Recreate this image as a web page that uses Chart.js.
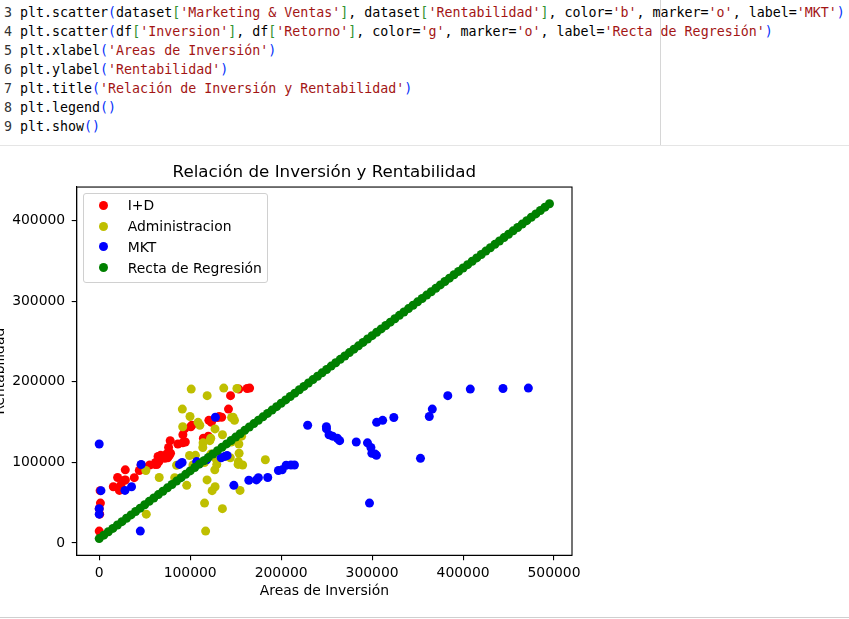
<!DOCTYPE html>
<html lang="es">
<head>
    <meta charset="UTF-8">
    <title>Relación de Inversión y Rentabilidad</title>
    <script src="https://cdn.jsdelivr.net/npm/chart.js"></script>
    <style>
        body {
            margin: 0;
            width: 849px;
            height: 619px;
            overflow: hidden;
            background: #fff;
            position: relative;
            font-family: "DejaVu Sans", sans-serif;
        }
        pre.code {
            position: absolute;
            left: 4px;
            top: 2.5px;
            margin: 0;
            font-family: "DejaVu Sans Mono", monospace;
            font-size: 13.3px;
            line-height: 19px;
            color: #000;
        }
        .code .n { color: #333; }
        .code .p { color: #0431fa; }
        .code .k { color: #319331; }
        .code .s { color: #a31515; }
        .ruler { position: absolute; left: 660px; top: 0; width: 1px; height: 145px; background: #d6d6d6; }
        .sep { position: absolute; left: 0; width: 849px; height: 1px; }
        #grafico {
            position: absolute;
            left: -8px;
            top: 150px;
        }
        #leyenda {
            position: absolute;
            left: 83px;
            top: 193px;
            width: 183px;
            height: 88px;
            border: 1px solid #d0d0d0;
            border-radius: 3px;
            background: rgba(255, 255, 255, 0.8);
            font-size: 13.9px;
            color: #000;
        }
        #leyenda .fila { position: absolute; left: 0; height: 20px; line-height: 20px; white-space: nowrap; }
        #leyenda .punto { position: absolute; left: 14.5px; top: 5.5px; width: 9px; height: 9px; border-radius: 50%; }
        #leyenda .txt { position: absolute; left: 43.7px; top: 0; }
    </style>
</head>
<body>

<pre class="code"><span class="n">3</span> plt.scatter<span class="p">(</span>dataset<span class="k">[</span><span class="s">'Marketing &amp; Ventas'</span><span class="k">]</span>, dataset<span class="k">[</span><span class="s">'Rentabilidad'</span><span class="k">]</span>, color=<span class="s">'b'</span>, marker=<span class="s">'o'</span>, label=<span class="s">'MKT'</span><span class="p">)</span>
<span class="n">4</span> plt.scatter<span class="p">(</span>df<span class="k">[</span><span class="s">'Inversion'</span><span class="k">]</span>, df<span class="k">[</span><span class="s">'Retorno'</span><span class="k">]</span>, color=<span class="s">'g'</span>, marker=<span class="s">'o'</span>, label=<span class="s">'Recta de Regresión'</span><span class="p">)</span>
<span class="n">5</span> plt.xlabel<span class="p">(</span><span class="s">'Areas de Inversión'</span><span class="p">)</span>
<span class="n">6</span> plt.ylabel<span class="p">(</span><span class="s">'Rentabilidad'</span><span class="p">)</span>
<span class="n">7</span> plt.title<span class="p">(</span><span class="s">'Relación de Inversión y Rentabilidad'</span><span class="p">)</span>
<span class="n">8</span> plt.legend<span class="p">()</span>
<span class="n">9</span> plt.show<span class="p">()</span></pre>
<div class="ruler"></div>
<div class="sep" style="top:145px; background:#e5e5e5;"></div>
<div class="sep" style="top:617px; background:#cfcfcf;"></div>

<canvas id="grafico" width="620" height="467"></canvas>
<div id="leyenda"></div>

<script>
    // Datos de las empresas (gasto por área y rentabilidad)
    const gastoID = [165349.2, 162597.7, 153441.51, 144372.41, 142107.34, 131876.9, 134615.46, 130298.13, 120542.52, 123334.88,
        101913.08, 100671.96, 93863.75, 91992.39, 119943.24, 114523.61, 78013.11, 94657.16, 91749.16, 86419.7,
        76253.86, 78389.47, 73994.56, 67532.53, 77044.01, 64664.71, 75328.87, 72107.6, 66051.52, 65605.48,
        61994.48, 61136.38, 63408.86, 55493.95, 46426.07, 46014.02, 28663.76, 44069.95, 20229.59, 38558.51,
        28754.33, 27892.92, 23640.93, 15505.73, 22177.74, 1000.23, 1315.46, 0, 542.05, 0];

    const gastoAdmin = [136897.8, 151377.59, 101145.55, 118671.85, 91391.77, 99814.71, 147198.87, 145530.06, 148718.95, 108679.17,
        110594.11, 91790.61, 127320.38, 135495.07, 156547.42, 122616.84, 121597.55, 145077.58, 114175.79, 153514.11,
        113867.3, 153773.43, 122782.75, 105751.03, 99281.34, 139553.16, 144135.98, 127864.55, 182645.56, 153032.06,
        115641.28, 152701.92, 129219.61, 103057.49, 157693.92, 85047.44, 127056.21, 51283.14, 65947.93, 82982.09,
        118546.05, 84710.77, 96189.63, 127382.3, 154806.14, 124153.04, 115816.21, 135426.92, 51743.15, 116983.8];

    const gastoMkt = [471784.1, 443898.53, 407934.54, 383199.62, 366168.42, 362861.36, 127716.82, 323876.68, 311613.29, 304981.62,
        229160.95, 249744.55, 249839.44, 252664.93, 256512.92, 261776.23, 264346.06, 282574.31, 294919.57, 0,
        298664.47, 299737.29, 303319.26, 304768.73, 140574.81, 137962.62, 134050.07, 353183.81, 118148.2, 107138.38,
        91131.24, 88218.23, 46085.25, 214634.81, 210797.67, 205517.64, 201126.82, 197029.42, 185265.1, 174999.3,
        172795.67, 164470.71, 148001.11, 35534.17, 28334.72, 1903.93, 297114.46, 0, 0, 45173.06];

    const rentabilidad = [192261.83, 191792.06, 191050.39, 182901.99, 166187.94, 156991.12, 156122.51, 155752.6, 152211.77, 149759.96,
        146121.95, 144259.4, 141585.52, 134307.35, 132602.65, 129917.04, 126992.93, 125370.37, 124266.9, 122776.86,
        118474.03, 111313.02, 110352.25, 108733.99, 108552.04, 107404.34, 105733.54, 105008.31, 103282.38, 101004.64,
        99937.59, 97483.56, 97427.84, 96778.92, 96712.8, 96479.51, 90708.19, 89949.14, 81229.06, 81005.76,
        78239.91, 77798.83, 71498.49, 69758.98, 65200.33, 64926.08, 49490.75, 42559.73, 35673.41, 14681.4];

    // Recta de regresión
    const inversion = [0, 5000, 10000, 15000, 20000, 25000, 30000, 35000, 40000, 45000,
        50000, 55000, 60000, 65000, 70000, 75000, 80000, 85000, 90000, 95000,
        100000, 105000, 110000, 115000, 120000, 125000, 130000, 135000, 140000, 145000,
        150000, 155000, 160000, 165000, 170000, 175000, 180000, 185000, 190000, 195000,
        200000, 205000, 210000, 215000, 220000, 225000, 230000, 235000, 240000, 245000,
        250000, 255000, 260000, 265000, 270000, 275000, 280000, 285000, 290000, 295000,
        300000, 305000, 310000, 315000, 320000, 325000, 330000, 335000, 340000, 345000,
        350000, 355000, 360000, 365000, 370000, 375000, 380000, 385000, 390000, 395000,
        400000, 405000, 410000, 415000, 420000, 425000, 430000, 435000, 440000, 445000,
        450000, 455000, 460000, 465000, 470000, 475000, 480000, 485000, 490000, 495000];

    const retorno = [5400, 9600, 13800, 18000, 22200, 26400, 30600, 34800, 39000, 43200,
        47400, 51600, 55800, 60000, 64200, 68400, 72600, 76800, 81000, 85200,
        89400, 93600, 97800, 102000, 106200, 110400, 114600, 118800, 123000, 127200,
        131400, 135600, 139800, 144000, 148200, 152400, 156600, 160800, 165000, 169200,
        173400, 177600, 181800, 186000, 190200, 194400, 198600, 202800, 207000, 211200,
        215400, 219600, 223800, 228000, 232200, 236400, 240600, 244800, 249000, 253200,
        257400, 261600, 265800, 270000, 274200, 278400, 282600, 286800, 291000, 295200,
        299400, 303600, 307800, 312000, 316200, 320400, 324600, 328800, 333000, 337200,
        341400, 345600, 349800, 354000, 358200, 362400, 366600, 370800, 375000, 379200,
        383400, 387600, 391800, 396000, 400200, 404400, 408600, 412800, 417000, 421200];

    const ticksX = [0, 100000, 200000, 300000, 400000, 500000];
    const ticksY = [0, 100000, 200000, 300000, 400000];

    const puntos = (xs, ys) => xs.map((x, i) => ({ x: x, y: ys[i] }));

    const fuente = { family: 'DejaVu Sans', size: 13.9 };

    // marco completo alrededor del área del gráfico (como matplotlib)
    const marco = {
        id: 'marco',
        afterDraw(chart) {
            const a = chart.chartArea;
            const ctx = chart.ctx;
            ctx.save();
            ctx.strokeStyle = '#000';
            ctx.lineWidth = 1.1;
            ctx.strokeRect(a.left, a.top, a.right - a.left, a.bottom - a.top);
            ctx.restore();
        }
    };

    function serie(label, xs, ys, color, orden) {
        return {
            label: label,
            data: puntos(xs, ys),
            backgroundColor: color,
            borderWidth: 0,
            pointRadius: 4.5,
            pointHoverRadius: 4.5,
            order: orden
        };
    }

    const ctx = document.getElementById('grafico').getContext('2d');
    const grafico = new Chart(ctx, {
        type: 'scatter',
        data: {
            datasets: [
                serie('I+D', gastoID, rentabilidad, '#ff0000', 3),
                serie('Administracion', gastoAdmin, rentabilidad, '#bfbf00', 2),
                serie('MKT', gastoMkt, rentabilidad, '#0000ff', 1),
                serie('Recta de Regresión', inversion, retorno, '#008000', 0)
            ]
        },
        options: {
            responsive: false,
            animation: false,
            layout: { padding: { left: 0, right: 40, top: 0, bottom: 0 } },
            plugins: {
                legend: { display: false },
                tooltip: { enabled: false },
                title: {
                    display: true,
                    text: 'Relación de Inversión y Rentabilidad',
                    fullSize: false,
                    color: '#000',
                    font: { family: 'DejaVu Sans', size: 16.7, weight: 'normal' },
                    padding: { top: 12.5, bottom: 4.5 }
                }
            },
            scales: {
                x: {
                    type: 'linear',
                    min: -24750,
                    max: 519750,
                    afterBuildTicks: s => { s.ticks = ticksX.map(v => ({ value: v })); },
                    afterFit: s => { s.height = 61.7; },
                    ticks: { callback: v => String(v), color: '#000', font: fuente, padding: 4.5, maxRotation: 0 },
                    grid: { drawOnChartArea: false, drawTicks: true, tickLength: 5, color: '#000', lineWidth: 1.1 },
                    border: { display: true, color: '#000', width: 1.1 },
                    title: { display: true, text: 'Areas de Inversión', color: '#000', font: fuente, padding: { top: 0, bottom: 17.7 } }
                },
                y: {
                    type: 'linear',
                    min: -15390,
                    max: 441990,
                    afterBuildTicks: s => { s.ticks = ticksY.map(v => ({ value: v })); },
                    afterFit: s => { s.width = 84.7; },
                    ticks: { callback: v => String(v), color: '#000', font: fuente, padding: 6.5 },
                    grid: { drawOnChartArea: false, drawTicks: true, tickLength: 5, color: '#000', lineWidth: 1.1 },
                    border: { display: true, color: '#000', width: 1.1 },
                    title: { display: true, text: 'Rentabilidad', color: '#000', font: fuente, padding: { top: 0, bottom: 0 } }
                }
            }
        },
        plugins: [marco]
    });

    // Leyenda en HTML, armada a partir de los datasets
    const leyenda = document.getElementById('leyenda');
    grafico.data.datasets.forEach((ds, i) => {
        const fila = document.createElement('div');
        fila.className = 'fila';
        fila.style.top = (1.3 + i * 20.8) + 'px';
        const punto = document.createElement('span');
        punto.className = 'punto';
        punto.style.background = ds.backgroundColor;
        const txt = document.createElement('span');
        txt.className = 'txt';
        txt.textContent = ds.label;
        fila.appendChild(punto);
        fila.appendChild(txt);
        leyenda.appendChild(fila);
    });
</script>

</body>
</html>
